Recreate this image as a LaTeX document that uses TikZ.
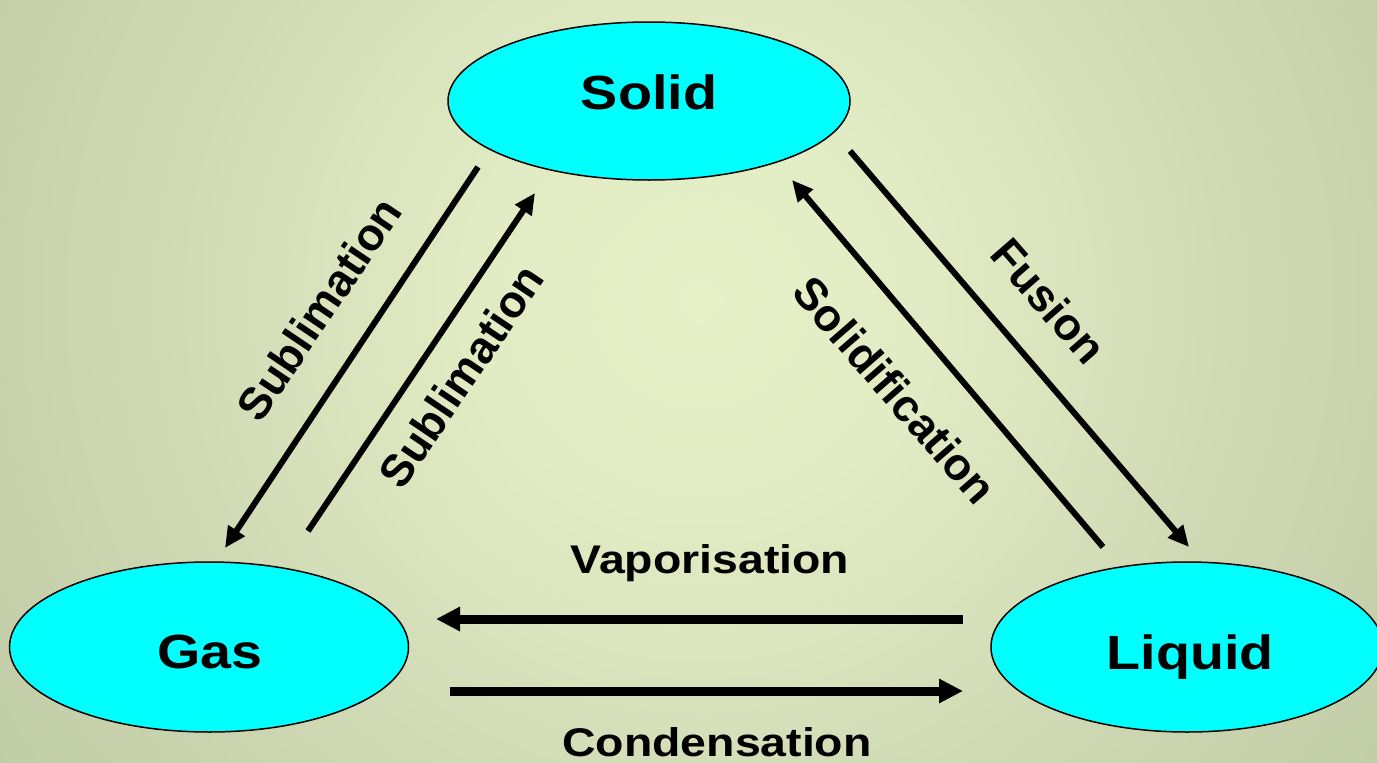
\documentclass[tikz,border=0pt]{standalone}
\usepackage{fontspec}
\usepackage{graphicx}
\setmainfont{Liberation Sans}
\usetikzlibrary{shapes.geometric,arrows.meta}
\definecolor{bgA}{HTML}{E6F1C8}
\definecolor{bgB}{HTML}{E2ECC4}
\definecolor{bgC}{HTML}{CDD7B2}
\definecolor{bgD}{HTML}{BFCBA5}
\definecolor{bgE}{HTML}{ADB892}
\definecolor{bgF}{HTML}{A5B08A}
\definecolor{bgG}{HTML}{A0AB86}
\definecolor{phase}{HTML}{00FFFF}
\pgfdeclareradialshading{bgshade}{\pgfpoint{0bp}{0bp}}{color(0bp)=(bgA); color(6bp)=(bgB); color(16bp)=(bgC); color(25bp)=(bgD); color(32bp)=(bgE); color(38bp)=(bgF); color(50bp)=(bgG)}
\begin{document}
\begin{tikzpicture}[x=1pt,y=-1pt,
  ell/.style={ellipse,draw=black,line width=1.5pt,fill=phase,inner sep=0pt},
  big/.style={font=\fontsize{48}{56}\selectfont\bfseries,inner sep=0pt,anchor=base},
  hlab/.style={font=\fontsize{40}{48}\selectfont\bfseries,inner sep=0pt,anchor=base},
  rlab/.style={font=\fontsize{45}{52}\selectfont\bfseries,inner sep=0pt},
  harr/.style={line width=9pt,-{Triangle[length=24pt,width=23pt]}},
  darr/.style={line width=6pt,-{Triangle[length=21pt,width=19pt]}}]
\useasboundingbox (0,0) rectangle (1377,763);
\begin{scope}
\clip (0,0) rectangle (1377,763);
\shade[shading=bgshade] (700,300) circle[radius=900];
\end{scope}
% phases
\node[ell,minimum width=402pt,minimum height=158pt] (solid) at (649,101) {};
\node[ell,minimum width=399pt,minimum height=170pt] (gas) at (209,647) {};
\node[ell,minimum width=392pt,minimum height=170pt] (liquid) at (1187,647) {};
\node[big] (tsolid) at (649,109) {\scalebox{1.16}[1]{Solid}};
\node[big] (tgas) at (210,668) {\scalebox{1.16}[1]{Gas}};
\node[big] (tliquid) at (1190,669) {\scalebox{1.16}[1]{Liquid}};
% arrow end points
\coordinate (s1a) at (478,167);  \coordinate (s1b) at (225,548);
\coordinate (s2a) at (308,531);  \coordinate (s2b) at (535,193);
\coordinate (fa) at (850,151);   \coordinate (fb) at (1189,547);
\coordinate (sda) at (1103,547); \coordinate (sdb) at (792,180);
\coordinate (va) at (963,619);   \coordinate (vb) at (436,619);
\coordinate (ca) at (450,691);   \coordinate (cb) at (963,691);
% arrows
\draw[darr] (s1a) -- (s1b);
\draw[darr] (s2a) -- (s2b);
\draw[darr] (fa) -- (fb);
\draw[darr] (sda) -- (sdb);
\draw[harr] (va) -- (vb);
\draw[harr] (ca) -- (cb);
% labels
\node[rlab,rotate=56] (l1) at (319,309) {Sublimation};
\node[rlab,rotate=56] (l2) at (461,376) {Sublimation};
\node[rlab,rotate=-49] (l3) at (895,390) {Solidification};
\node[rlab,rotate=-49] (l4) at (1049,301) {Fusion};
\node[hlab] (l5) at (710,573) {\scalebox{1.16}[1]{Vaporisation}};
\node[hlab] (l6) at (717,756) {\scalebox{1.16}[1]{Condensation}};
\end{tikzpicture}
\end{document}
